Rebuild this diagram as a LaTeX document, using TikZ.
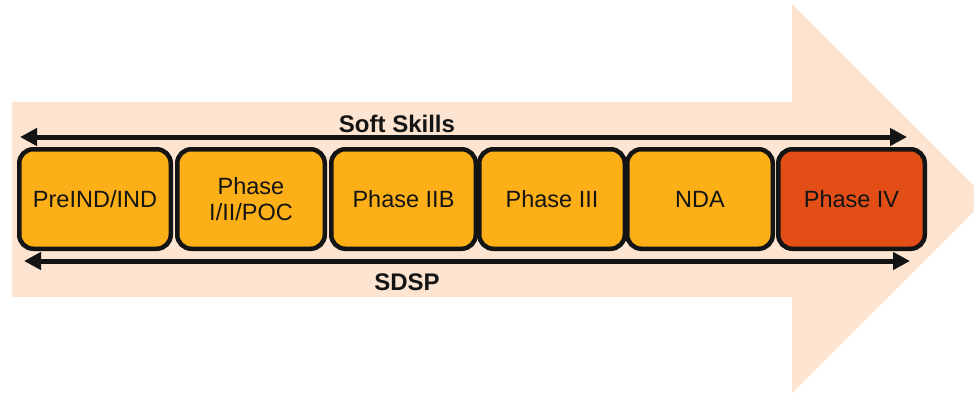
\documentclass[tikz,border=0pt]{standalone}
\usepackage{fontspec}
\setmainfont{Liberation Sans}
\usetikzlibrary{arrows.meta}
\definecolor{peach}{RGB}{252,228,208}
\definecolor{phaseorange}{RGB}{252,175,23}
\definecolor{phasered}{RGB}{227,78,22}
\definecolor{ink}{RGB}{20,20,20}
\tikzset{
  phasebox/.style={draw=ink, line width=4.5pt, rounded corners=14pt,
    fill=phaseorange, text=ink, minimum height=99.5pt, inner sep=0pt,
    align=center, font=\fontsize{23.5}{26}\selectfont},
  spanline/.style={line width=5pt, ink,
    {Triangle[length=17pt,width=17pt]}-{Triangle[length=17pt,width=17pt]}},
  spanlabel/.style={text=ink, font=\fontsize{24}{26}\selectfont\bfseries, inner sep=0pt}
}
\begin{document}
\begin{tikzpicture}[x=1pt, y=-1pt]
  \useasboundingbox (0,0) rectangle (974,394);
  \clip (0,0) rectangle (974,394);
  % large background arrow
  \fill[peach] (12,102) -- (792,102) -- (792,4) -- (987,198.5) -- (792,393)
    -- (792,297) -- (12,297) -- cycle;
  % phase boxes
  \node[phasebox, minimum width=151.5pt] (pre)  at (95,199)    {PreIND/IND};
  \node[phasebox, minimum width=147.5pt] (ph1)  at (251,199)   {Phase\\I/II/POC};
  \node[phasebox, minimum width=144.5pt] (ph2b) at (403.5,199) {Phase IIB};
  \node[phasebox, minimum width=145.5pt] (ph3)  at (552,199)   {Phase III};
  \node[phasebox, minimum width=145.5pt] (nda)  at (700,199)   {NDA};
  \node[phasebox, minimum width=146.5pt, fill=phasered] (ph4) at (851.5,199) {Phase IV};
  % span arrows
  \coordinate (softL) at (20,137);
  \coordinate (softR) at (907,137);
  \coordinate (sdspL) at (24,261);
  \coordinate (sdspR) at (910,261);
  \draw[spanline] (softL) -- (softR);
  \draw[spanline] (sdspL) -- (sdspR);
  \node[spanlabel] (soft) at (397,124) {Soft Skills};
  \node[spanlabel] (sdsp) at (407,282) {SDSP};
\end{tikzpicture}
\end{document}
